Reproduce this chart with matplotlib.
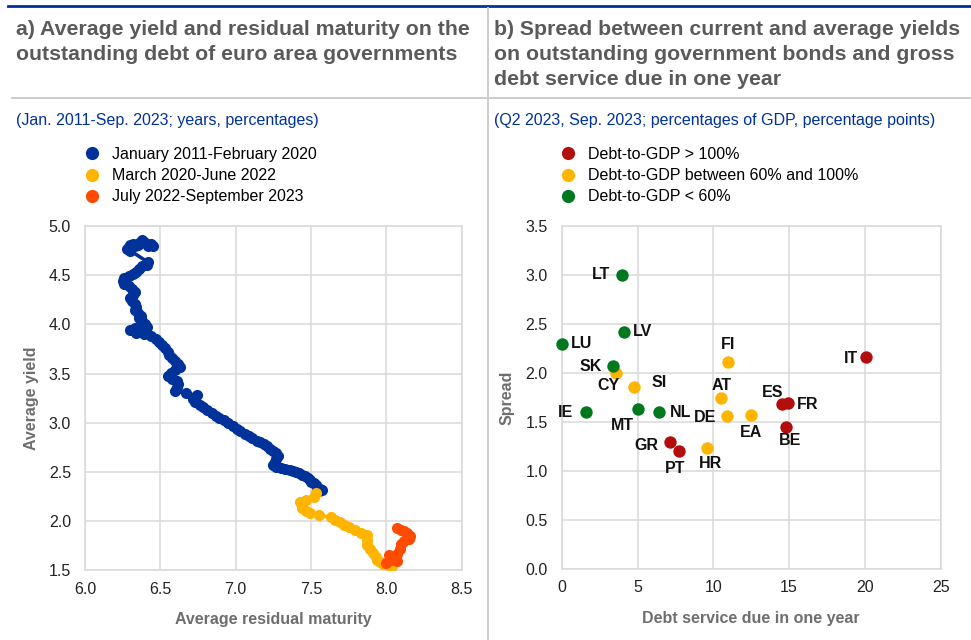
import matplotlib
matplotlib.use('Agg')
import matplotlib.pyplot as plt
from matplotlib.lines import Line2D

plt.rcParams['font.family'] = ['Liberation Sans', 'DejaVu Sans']

# ---- panel a data: average residual maturity (years) and average yield (%)
blue_maturity = [6.45, 6.44, 6.42, 6.41, 6.39, 6.38, 6.36, 6.35, 6.33, 6.32, 6.30, 6.29, 6.28, 6.30,
                 6.42, 6.41, 6.38, 6.36, 6.34, 6.32, 6.29, 6.26, 6.25, 6.26, 6.29, 6.31, 6.33, 6.32,
                 6.30, 6.31, 6.33, 6.34, 6.33, 6.35, 6.37, 6.36, 6.38, 6.40, 6.41, 6.37, 6.33, 6.30,
                 6.34, 6.39, 6.44, 6.47, 6.49, 6.51, 6.53, 6.55, 6.56, 6.58, 6.60, 6.62, 6.63, 6.60,
                 6.57, 6.55, 6.58, 6.61, 6.62, 6.61, 6.60, 6.67, 6.74, 6.72, 6.73, 6.76, 6.78, 6.81,
                 6.84, 6.87, 6.89, 6.92, 6.95, 6.98, 7.01, 7.03, 7.06, 7.09, 7.11, 7.14, 7.16, 7.19,
                 7.21, 7.23, 7.25, 7.27, 7.28, 7.27, 7.26, 7.25, 7.27, 7.30, 7.33, 7.36, 7.38, 7.40,
                 7.42, 7.44, 7.46, 7.48, 7.49, 7.50, 7.52, 7.53, 7.54, 7.56, 7.57, 7.55]
blue_yield = [4.80, 4.82, 4.80, 4.82, 4.84, 4.86, 4.83, 4.81, 4.80, 4.82, 4.81, 4.79, 4.77, 4.75,
              4.63, 4.60, 4.59, 4.56, 4.53, 4.51, 4.49, 4.47, 4.44, 4.41, 4.39, 4.36, 4.33, 4.30,
              4.27, 4.24, 4.21, 4.18, 4.15, 4.12, 4.09, 4.06, 4.03, 4.00, 3.97, 3.95, 3.96, 3.94,
              3.91, 3.90, 3.88, 3.85, 3.82, 3.79, 3.76, 3.72, 3.69, 3.66, 3.63, 3.60, 3.57, 3.54,
              3.51, 3.48, 3.45, 3.42, 3.39, 3.36, 3.32, 3.30, 3.28, 3.24, 3.21, 3.18, 3.16, 3.13,
              3.10, 3.07, 3.05, 3.03, 3.00, 2.97, 2.94, 2.92, 2.89, 2.87, 2.85, 2.82, 2.80, 2.78,
              2.76, 2.73, 2.71, 2.69, 2.66, 2.63, 2.60, 2.57, 2.55, 2.54, 2.53, 2.52, 2.51, 2.50,
              2.49, 2.47, 2.46, 2.44, 2.42, 2.40, 2.39, 2.37, 2.35, 2.33, 2.32, 2.31]

yellow_maturity = [7.53, 7.52, 7.47, 7.43, 7.44, 7.44, 7.47, 7.49, 7.55, 7.63, 7.66, 7.69, 7.72,
                   7.75, 7.79, 7.83, 7.87, 7.87, 7.87, 7.89, 7.91, 7.93, 7.94, 7.96, 7.98, 8.01,
                   8.04, 8.02]
yellow_yield = [2.29, 2.25, 2.22, 2.20, 2.16, 2.13, 2.10, 2.08, 2.06, 2.04, 2.01, 1.99, 1.96,
                1.94, 1.91, 1.88, 1.86, 1.81, 1.76, 1.72, 1.68, 1.64, 1.61, 1.59, 1.57, 1.55,
                1.54, 1.58]

red_maturity = [8.00, 8.03, 8.07, 8.05, 8.02, 8.07, 8.09, 8.10, 8.12, 8.15, 8.16, 8.14, 8.12,
                8.10, 8.07]
red_yield = [1.58, 1.61, 1.60, 1.63, 1.66, 1.67, 1.72, 1.77, 1.80, 1.82, 1.85, 1.88, 1.90,
             1.91, 1.93]

period_labels = ['January 2011-February 2020', 'March 2020-June 2022', 'July 2022-September 2023']

# ---- panel b data: debt service due in one year (% of GDP) and spread (pp)
countries = ['LT', 'LV', 'LU', 'SK', 'CY', 'SI', 'IE', 'MT', 'NL', 'GR', 'PT', 'HR',
             'FI', 'AT', 'DE', 'EA', 'ES', 'FR', 'BE', 'IT']
debt_service = [4.0, 4.1, 0.0, 3.4, 3.55, 4.77, 1.6, 5.05, 6.45, 7.15, 7.75, 9.6,
                11.0, 10.5, 10.9, 12.5, 14.55, 14.95, 14.8, 20.05]
spread = [3.0, 2.42, 2.3, 2.07, 2.0, 1.86, 1.6, 1.63, 1.6, 1.3, 1.2, 1.24,
          2.11, 1.74, 1.56, 1.57, 1.68, 1.69, 1.45, 2.16]
debt_group = ['low', 'low', 'low', 'low', 'mid', 'mid', 'low', 'low', 'low', 'high', 'high', 'mid',
              'mid', 'mid', 'mid', 'mid', 'high', 'high', 'high', 'high']
group_order = ['high', 'mid', 'low']
group_labels = ['Debt-to-GDP > 100%', 'Debt-to-GDP between 60% and 100%', 'Debt-to-GDP < 60%']

# label offsets in pixels (dx, dy)
label_offsets = {'LT': (-21, 0), 'LV': (19, 0), 'LU': (20, 0), 'SK': (-23, 0), 'CY': (-7, -13),
                 'SI': (25, 4), 'IE': (-20, 0), 'MT': (-16, -16), 'NL': (21, 0), 'GR': (-24, -4),
                 'PT': (-4, -17), 'HR': (3, -16), 'FI': (0, 18), 'AT': (1, 13), 'DE': (-22, -1),
                 'EA': (0, -17), 'ES': (-10, 12), 'FR': (19, -1), 'BE': (4, -14), 'IT': (-15, -1)}

BLUE = '#003299'
YELLOW = '#ffb400'
ORANGE = '#ff4b00'
DARKRED = '#b20e0e'
GREEN = '#00781e'
GRID = '#d9d9d9'
TITLE_GREY = '#5a5a5a'
LABEL_GREY = '#6e6e6e'
FS = 11.5
group_colors = {'high': DARKRED, 'mid': YELLOW, 'low': GREEN}

W, H = 971, 640
fig = plt.figure(figsize=(W / 100, H / 100), dpi=100)


def fx(px):
    return px / W


def fy(py):
    return 1 - py / H


# frame lines
fig.add_artist(Line2D([fx(8), 1], [fy(6), fy(6)], color=BLUE, lw=2, transform=fig.transFigure))
fig.add_artist(Line2D([fx(12), 1], [fy(98), fy(98)], color='#cccccc', lw=1.4, transform=fig.transFigure))
fig.add_artist(Line2D([fx(488), fx(488)], [fy(8), 0], color='#cccccc', lw=1.4, transform=fig.transFigure))

# titles, one line at a time
title_a = ['a) Average yield and residual maturity on the', 'outstanding debt of euro area governments']
title_b = ['b) Spread between current and average yields', 'on outstanding government bonds and gross',
           'debt service due in one year']
for i, line in enumerate(title_a):
    fig.text(fx(16), fy(35 + 25 * i), line, fontsize=15.3, fontweight='bold', color=TITLE_GREY, va='baseline')
for i, line in enumerate(title_b):
    fig.text(fx(494), fy(35 + 25 * i), line, fontsize=15.3, fontweight='bold', color=TITLE_GREY, va='baseline')
fig.text(fx(16), fy(120), '(Jan. 2011-Sep. 2023; years, percentages)', fontsize=FS, color=BLUE, va='center')
fig.text(fx(494), fy(120), '(Q2 2023, Sep. 2023; percentages of GDP, percentage points)', fontsize=FS,
         color=BLUE, va='center')


def style_axes(ax):
    ax.grid(True, color=GRID, lw=1.1)
    ax.set_axisbelow(True)
    for s in ax.spines.values():
        s.set_color(GRID)
        s.set_linewidth(1.1)
    ax.tick_params(length=0, labelsize=FS, colors='#222222')
    ax.tick_params(axis='y', pad=10)
    ax.tick_params(axis='x', pad=8)


# ---- panel a
ax1 = fig.add_axes([fx(85), fy(570.4), fx(461.7 - 85), (570.4 - 226) / H])
for xs, ys, c in [(blue_maturity, blue_yield, BLUE), (yellow_maturity, yellow_yield, YELLOW),
                  (red_maturity, red_yield, ORANGE)]:
    ax1.plot(xs, ys, color=c, lw=2.6, marker='o', markersize=8, markeredgewidth=0, zorder=3)
ax1.set_xlim(6.0, 8.5)
ax1.set_ylim(1.5, 5.0)
ax1.set_xticks([6.0, 6.5, 7.0, 7.5, 8.0, 8.5])
ax1.set_yticks([1.5, 2.0, 2.5, 3.0, 3.5, 4.0, 4.5, 5.0])
ax1.xaxis.set_major_formatter('{x:.1f}')
ax1.yaxis.set_major_formatter('{x:.1f}')
style_axes(ax1)
ax1.set_xlabel('Average residual maturity', fontsize=FS, fontweight='bold', color=LABEL_GREY, labelpad=11)
ax1.set_ylabel('Average yield', fontsize=FS, fontweight='bold', color=LABEL_GREY, labelpad=7)

handles_a = [Line2D([], [], ls='none', marker='o', markersize=9.5, markeredgewidth=0, color=c)
             for c in [BLUE, YELLOW, ORANGE]]
ax1.legend(handles_a, period_labels, loc='upper left', bbox_to_anchor=(fx(82.5), fy(147)),
           bbox_transform=fig.transFigure, frameon=False, fontsize=FS, handletextpad=0.65,
           labelspacing=0.39, handlelength=1.2, borderpad=0, borderaxespad=0)

# ---- panel b
ax2 = fig.add_axes([fx(561.7), fy(569.3), fx(940.7 - 561.7), (569.3 - 225.7) / H])
for g, lab in zip(group_order, group_labels):
    xs = [d for d, gg in zip(debt_service, debt_group) if gg == g]
    ys = [s for s, gg in zip(spread, debt_group) if gg == g]
    ax2.scatter(xs, ys, s=80, color=group_colors[g], linewidths=0, zorder=3, label=lab, clip_on=False)
for name, xv, yv in zip(countries, debt_service, spread):
    dx, dy = label_offsets[name]
    ax2.annotate(name, (xv, yv), xytext=(dx, dy), textcoords='offset pixels', ha='center', va='center',
                 fontsize=FS, fontweight='bold', color='#111111', zorder=4)
ax2.set_xlim(0, 25)
ax2.set_ylim(0, 3.5)
ax2.set_xticks([0, 5, 10, 15, 20, 25])
ax2.set_yticks([0.0, 0.5, 1.0, 1.5, 2.0, 2.5, 3.0, 3.5])
ax2.yaxis.set_major_formatter('{x:.1f}')
style_axes(ax2)
ax2.set_xlabel('Debt service due in one year', fontsize=FS, fontweight='bold', color=LABEL_GREY, labelpad=11)
ax2.set_ylabel('Spread', fontsize=FS, fontweight='bold', color=LABEL_GREY, labelpad=8)

handles_b = [Line2D([], [], ls='none', marker='o', markersize=9.5, markeredgewidth=0, color=group_colors[g])
             for g in group_order]
ax2.legend(handles_b, group_labels, loc='upper left', bbox_to_anchor=(fx(558.5), fy(147)),
           bbox_transform=fig.transFigure, frameon=False, fontsize=FS, handletextpad=0.65,
           labelspacing=0.39, handlelength=1.2, borderpad=0, borderaxespad=0)

fig.savefig('out.png', dpi=100)
